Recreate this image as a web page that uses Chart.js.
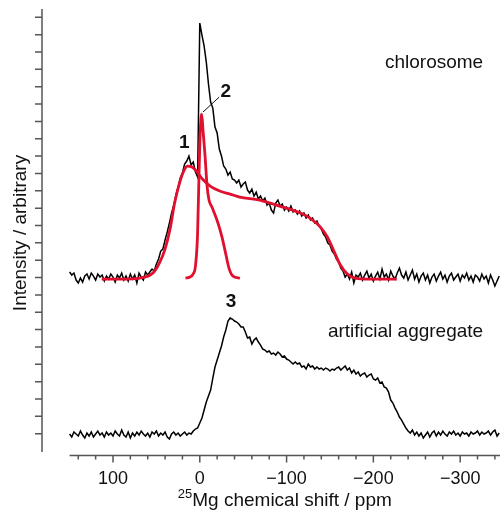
<!DOCTYPE html>
<html lang="en">
<head>
<meta charset="UTF-8">
<title>25Mg NMR spectra</title>
<script src="https://cdn.jsdelivr.net/npm/chart.js"></script>
<style>
  body { margin: 0; background: #fff; }
  #wrap { width: 500px; height: 510px; }
</style>
</head>
<body>
<div id="wrap"><canvas id="nmr" width="500" height="510"></canvas></div>
<script>
// sampling grid of both measured spectra (ppm)
const ppmStart = 150;
const ppmStep = -2.5;

// chlorosome spectrum, intensity above its own baseline
const chlorosome = [
  5, 2, 4, -3, -6, -1, -5, 1, 3, -2, 4, 1, -3, 3, 0, 2, -4, 1, -2, 3,
  0, -5, 2, -1, 4, -3, 1, -4, 3, -2, 2, -6, 4, 0, -3, 5, 2,
  5, 8, 6, 13, 18, 26, 28, 37, 45, 54, 64, 72, 82, 90, 99, 104, 113, 116, 121, 112,
  115, 105, 100,
  254, 242, 231, 215, 193, 175, 169, 150, 144, 128, 121, 111, 108, 102, 105, 98, 97, 94, 97, 90,
  93, 95, 87, 84, 88, 81, 85, 78, 81, 76, 79, 72, 74, 67, 64, 74, 77, 71, 73, 67,
  70, 66, 71, 65, 67, 63, 66, 61, 64, 59, 62, 57, 59, 54, 56, 51, 48, 43, 40, 34,
  32, 26, 23, 18, 15, 9, 6, 0, 3, -2, 5, -6, 2,
  0, 4, -3, 2, 6, -1, 3, -4, 1, 5, -2, 8, 0, 3, -3, 6, 1, -2, 4, 9,
  2, -1, 5, -3, 2, 7, -2, 3, -5, 1, 4, -3, 2, -6, 0, 3, -4, 1, 5, -2,
  2, -5, 1, 4, -3, 0, 3, -4, 2, -1, 4, -3, 1, -5, 2, 0, -4, 3, -2, 1,
  -6, 2, -3, -9, -4, 1
];

// artificial aggregate spectrum, intensity above its own baseline
const aggregate = [
  0, -3, 2, 0, -2, 3, -1, -4, 1, -2, 2, -3, 0, 3, -1, 1, -3, 2, -1, 1,
  -2, 3, 0, -2, 4, -1, -3, 2, -4, 1, -2, 2, -1, 3, 0, -2, 1, -3, 2, 0,
  3, -2, 1, -1, 2, -3, -5, 0, 2, -1, 1, -2, 0, 2, -1, 1, 0, 3, 5,
  6, 11, 16, 24, 32, 38, 44, 56, 67, 74, 81, 88, 97, 104, 113, 116, 115, 113, 112, 110,
  107, 107, 102, 96, 97, 90, 94, 96, 92, 89, 85, 84, 82, 83, 80, 81, 79, 82, 80, 77,
  78, 75, 74, 72, 70, 72, 70, 71, 67, 68, 65, 70, 67, 68, 65, 67, 65, 66, 64, 66,
  65, 63, 65, 64, 66, 67, 64, 66, 68, 64, 66, 61, 64, 60, 62, 58, 60, 61, 57, 59,
  60, 55, 54, 56, 51, 52, 47, 46, 42, 34, 31, 26, 22, 17, 14, 10, 6, 3, 1, 4,
  -1, 2, -2, 1, -4, -1,
  2, -3, 1, 3, -2, 2, -1, 3, 0, -2, 2, 0, 3, -1, 1, -2, 2, 0, 1, -2,
  2, 0, 1, 3, -1, 2, 0, 1, 3, -1, 2, 4, -2, 1
];

// fitted curve: component 1 + broad component (chlorosome)
const fitPpm = [113, 92, 69, 57, 52, 46, 40, 34, 29, 23, 18, 14, 9, 4, -3, -12, -23, -35, -46, -69,
  -92, -116, -127, -139, -147, -154, -162, -170, -179, -196, -227];
const fitTotal = [-2, -2, -1, 2, 6, 15, 28, 49, 74, 95, 107, 111, 110, 106, 98, 91, 86, 83, 80, 77,
  71, 64, 59, 50, 40, 27, 12, 3, -1, -2, -2];

// fitted curve: narrow component 2
const narrowPpm = [16.5, 11.3, 7.8, 5, 2.6, 0.9, -0.6, -2.2, -3.7, -6, -8.3, -10.6, -14, -19.8,
  -25.6, -30.2, -33.6, -38.2, -46.3];
const narrowFit = [-1, 0, 3, 11, 42, 102, 147, 163, 147, 122, 92, 77, 70, 57, 40, 22, 9, 1, -1];

// vertical offsets of the two stacked spectra
const chlorosomeOffset = 174;
const aggregateOffset = 17;

const xTicks = [140, 120, 100, 80, 60, 40, 20, 0, -20, -40, -60, -80, -100, -120, -140,
  -160, -180, -200, -220, -240, -260, -280, -300, -320, -340];
const xLabelled = [100, 0, -100, -200, -300];
const yTickStep = 17.35;
const yTickCount = 25;

const notes = [
  { text: '1', ppm: 18, y: 303, bold: true, align: 'center' },
  { text: '2', ppm: -30, y: 354, bold: true, align: 'center' },
  { text: '3', ppm: -36, y: 144, bold: true, align: 'center' },
  { text: 'chlorosome', ppm: -326.5, y: 383, bold: false, align: 'right' },
  { text: 'artificial aggregate', ppm: -326.5, y: 114, bold: false, align: 'right' }
];
const leader = [[-22.4, 354], [-3.7, 339]];

const FONT = '"Liberation Sans", Arial, sans-serif';
const red = '#e0102e';
const axisColor = '#555';

function spectrum(values, offset) {
  return values.map((v, i) => ({ x: ppmStart + i * ppmStep, y: v + offset }));
}
function curve(ppm, values, offset) {
  return ppm.map((p, i) => ({ x: p, y: values[i] + offset }));
}

const axesPlugin = {
  id: 'nmrAxes',
  afterDraw(chart) {
    const { ctx, chartArea, scales: { x, y } } = chart;
    ctx.save();
    ctx.strokeStyle = axisColor;
    ctx.lineWidth = 1.5;

    // y axis with its ticks
    const ax = chartArea.left;
    ctx.beginPath();
    ctx.moveTo(ax, y.getPixelForValue(442));
    ctx.lineTo(ax, y.getPixelForValue(-1));
    for (let k = 1; k <= yTickCount; k++) {
      const py = y.getPixelForValue(k * yTickStep);
      ctx.moveTo(ax - 7, py);
      ctx.lineTo(ax, py);
    }
    ctx.stroke();

    // x axis with major and minor ticks
    const by = chartArea.bottom - 0.5;
    ctx.beginPath();
    ctx.moveTo(x.getPixelForValue(150), by);
    ctx.lineTo(chartArea.right, by);
    xTicks.forEach(v => {
      const px = x.getPixelForValue(v);
      ctx.moveTo(px, by);
      ctx.lineTo(px, by + (xLabelled.includes(v) ? 7 : 4));
    });
    ctx.stroke();

    // leader line to peak 2
    ctx.strokeStyle = '#111';
    ctx.lineWidth = 1;
    ctx.beginPath();
    ctx.moveTo(x.getPixelForValue(leader[0][0]), y.getPixelForValue(leader[0][1]));
    ctx.lineTo(x.getPixelForValue(leader[1][0]), y.getPixelForValue(leader[1][1]));
    ctx.stroke();

    // labels inside the plot
    ctx.fillStyle = '#111';
    ctx.textBaseline = 'alphabetic';
    notes.forEach(n => {
      ctx.font = (n.bold ? 'bold ' : '') + '19px ' + FONT;
      ctx.textAlign = n.align;
      ctx.fillText(n.text, x.getPixelForValue(n.ppm), y.getPixelForValue(n.y));
    });

    // x axis title with superscript mass number
    ctx.textAlign = 'left';
    ctx.font = '13px ' + FONT;
    const sup = '25';
    const supW = ctx.measureText(sup).width;
    ctx.font = '19px ' + FONT;
    const main = 'Mg chemical shift / ppm';
    const mainW = ctx.measureText(main).width;
    const cx = (x.getPixelForValue(150) + chartArea.right) / 2;
    const start = cx - (supW + mainW) / 2;
    ctx.fillText(main, start + supW, 506);
    ctx.font = '13px ' + FONT;
    ctx.fillText(sup, start, 498);
    ctx.restore();
  }
};

new Chart(document.getElementById('nmr'), {
  type: 'line',
  data: {
    datasets: [
      {
        label: 'chlorosome',
        data: spectrum(chlorosome, chlorosomeOffset),
        borderColor: '#000', borderWidth: 1.5, pointRadius: 0, tension: 0, order: 1
      },
      {
        label: 'artificial aggregate',
        data: spectrum(aggregate, aggregateOffset),
        borderColor: '#000', borderWidth: 1.5, pointRadius: 0, tension: 0, order: 1
      },
      {
        label: 'fit 1 + broad',
        data: curve(fitPpm, fitTotal, chlorosomeOffset),
        borderColor: red, borderWidth: 2.8, pointRadius: 0,
        cubicInterpolationMode: 'monotone', order: 0
      },
      {
        label: 'fit 2',
        data: curve(narrowPpm, narrowFit, chlorosomeOffset),
        borderColor: red, borderWidth: 2.8, pointRadius: 0,
        cubicInterpolationMode: 'monotone', order: 0
      }
    ]
  },
  options: {
    responsive: false,
    animation: false,
    layout: { padding: { top: 10, left: 0, right: 0, bottom: 0 } },
    plugins: { legend: { display: false }, tooltip: { enabled: false } },
    scales: {
      x: {
        type: 'linear',
        reverse: true,
        min: -345.9,
        max: 181.8,
        grid: { display: false },
        border: { display: false },
        afterBuildTicks: s => { s.ticks = xTicks.map(v => ({ value: v })); },
        afterFit: s => { s.height = 54; },
        ticks: {
          autoSkip: false,
          maxRotation: 0,
          padding: 4,
          color: '#111',
          font: { family: FONT, size: 18 },
          callback: v => xLabelled.includes(v) ? (v < 0 ? '\u2212' + (-v) : String(v)) : ''
        }
      },
      y: {
        type: 'linear',
        min: -4.95,
        max: 441.05,
        grid: { display: false },
        border: { display: false },
        ticks: { display: false },
        afterFit: s => { s.width = 42; },
        title: {
          display: true,
          text: 'Intensity / arbitrary',
          color: '#111',
          font: { family: FONT, size: 19 },
          padding: { top: 9, bottom: 0 }
        }
      }
    }
  },
  plugins: [axesPlugin]
});
</script>
</body>
</html>
